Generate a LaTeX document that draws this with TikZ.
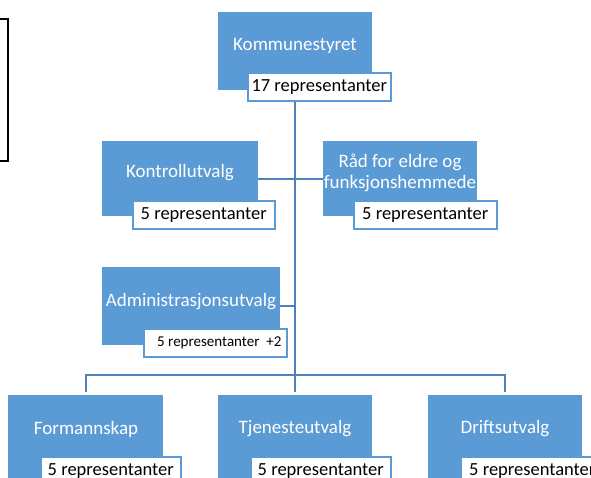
\documentclass[tikz,border=0pt]{standalone}
\usepackage{fontspec}
\setmainfont{Carlito}
\usetikzlibrary{calc}
\definecolor{boxblue}{HTML}{5B9BD5}
\definecolor{labline}{HTML}{5B9BD5}
\definecolor{connblue}{HTML}{4F81BD}
\begin{document}
\begin{tikzpicture}[x=1pt,y=-1pt,
  mainbox/.style={fill=boxblue, draw=none, anchor=north west, inner sep=0pt},
  boxtext/.style={text=white, font=\fontsize{19}{21.5}\selectfont, align=center, inner sep=0pt},
  lab/.style={fill=white, draw=labline, line width=1.6pt, anchor=north west, inner sep=0pt,
    minimum height=28pt, font=\fontsize{18.5}{21}\selectfont, text=black},
  conn/.style={draw=connblue, line width=2.2pt}]
\useasboundingbox (0,0) rectangle (591,477);
\clip (0,0) rectangle (591,477);
\fill[white] (0,0) rectangle (591,477);
% left frame
\draw[black, line width=1.2pt] (-5,19) rectangle (8,161);
% boxes
\node[mainbox, minimum width=154pt, minimum height=78pt] (k) at (218,12) {};
\node[mainbox, minimum width=156pt, minimum height=75pt] (ko) at (102,141) {};
\node[mainbox, minimum width=154pt, minimum height=75pt] (rad) at (323,141) {};
\node[mainbox, minimum width=178pt, minimum height=78pt] (ad) at (102,267) {};
\node[mainbox, minimum width=155pt, minimum height=95pt] (fo) at (8,395) {};
\node[mainbox, minimum width=154pt, minimum height=95pt] (tj) at (218,395) {};
\node[mainbox, minimum width=154pt, minimum height=95pt] (dr) at (428,395) {};
% box texts
\node[boxtext] (kt) at (295,46) {Kommunestyret};
\node[boxtext] (kot) at (180,173) {Kontrollutvalg};
\node[boxtext] (radt) at (400,173) {Råd for eldre og\\funksjonshemmede};
\node[boxtext] (adt) at (191,302) {Administrasjonsutvalg};
\node[boxtext] (fot) at (86,429) {Formannskap};
\node[boxtext] (tjt) at (295,429) {Tjenesteutvalg};
\node[boxtext] (drt) at (505,429) {Driftsutvalg};
% connectors
\coordinate (bus) at (295,375);
\draw[conn] (ko.east) -- (rad.west);
\draw[conn] (ad.east) -- (ad.east -| tj.north);
\draw[conn] ($(fo.north)+(0,-3)$) |- (bus) -| ($(dr.north)+(0,-3)$);
\draw[conn] (k.south -| tj.north) -- ($(tj.north)+(0,-3)$);
% labels
\node[lab, minimum width=143pt] (kl) at (247,72) {17 representanter};
\node[lab, minimum width=142pt] (kol) at (132,200) {5 representanter};
\node[lab, minimum width=143pt] (radl) at (353,200) {5 representanter};
\node[lab, minimum width=143pt, font=\fontsize{15}{17}\selectfont] (adl) at (143,328) {\hspace*{8pt}5 representanter \ +2};
\node[lab, minimum width=140pt] (fol) at (40,456) {5 representanter};
\node[lab, minimum width=140pt] (tjl) at (250,456) {5 representanter};
\node[lab, minimum width=143pt] (drl) at (460,456) {5 representanter};
\end{tikzpicture}
\end{document}
